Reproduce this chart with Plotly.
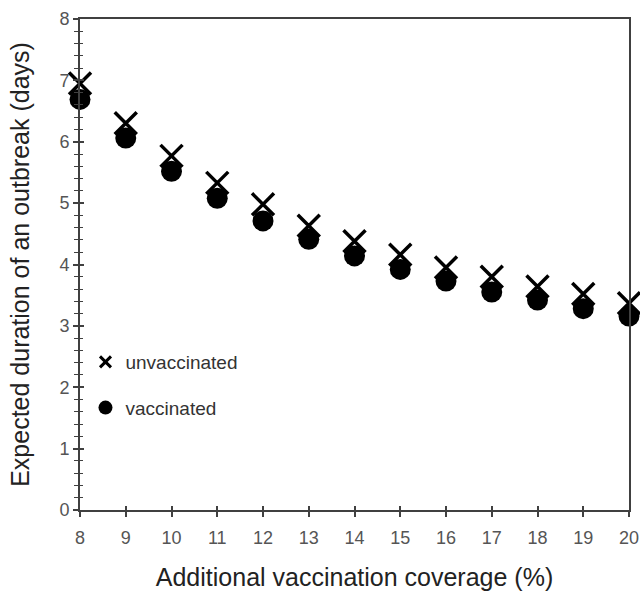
import plotly.graph_objects as go

coverage = [8, 9, 10, 11, 12, 13, 14, 15, 16, 17, 18, 19, 20]
unvaccinated = [6.95, 6.30, 5.77, 5.33, 4.98, 4.63, 4.38, 4.16, 3.95, 3.80, 3.64, 3.52, 3.37]
vaccinated = [6.69, 6.06, 5.52, 5.08, 4.71, 4.41, 4.14, 3.92, 3.73, 3.55, 3.42, 3.28, 3.16]

x_ticks = list(range(8, 21))
y_ticks = list(range(0, 9))

FONT = "Liberation Sans, Arial, sans-serif"
AX = "#404040"

fig = go.Figure()

fig.add_trace(go.Scatter(
    x=coverage, y=unvaccinated, mode="markers", showlegend=False, cliponaxis=False,
    marker=dict(symbol="x-thin-open", size=22, color="black",
                line=dict(width=3.5, color="black")),
))
fig.add_trace(go.Scatter(
    x=coverage, y=vaccinated, mode="markers", showlegend=False, cliponaxis=False,
    marker=dict(symbol="circle", size=21, color="black",
                line=dict(width=0)),
))
# legend entries
fig.add_trace(go.Scatter(
    x=[None], y=[None], mode="markers", name="unvaccinated", legendgroup="a",
    marker=dict(symbol="x-thin-open", size=11, color="black",
                line=dict(width=3, color="black")),
))
fig.add_trace(go.Scatter(
    x=[None], y=[None], mode="markers", name="vaccinated", legendgroup="b",
    marker=dict(symbol="circle", size=14, color="black"),
))

fig.update_layout(
    width=640, height=594,
    margin=dict(l=80, r=11, t=19, b=84),
    paper_bgcolor="white", plot_bgcolor="white",
    font=dict(family=FONT, color="#222"),
    showlegend=True,
    legend=dict(x=0.01, y=0.34, xanchor="left", yanchor="top",
                font=dict(size=19, color="#333"),
                tracegroupgap=18, itemwidth=30,
                bgcolor="rgba(0,0,0,0)"),
    xaxis=dict(
        range=[8, 20], tickvals=x_ticks, ticktext=[str(v) for v in x_ticks],
        showgrid=False, zeroline=False, automargin=False,
        showline=True, linecolor=AX, linewidth=2, mirror=True,
        ticks="outside", ticklen=5, tickwidth=1.5, tickcolor=AX,
        ticklabelstandoff=5, ticklabeloverflow="allow",
        tickfont=dict(size=18, color="#555"),
        title=dict(text="Additional vaccination coverage (%)",
                   font=dict(size=25, color="#222"), standoff=22),
    ),
    xaxis2=dict(
        range=[8, 20], overlaying="x", anchor="y", side="bottom", automargin=False,
        tickvals=x_ticks, showticklabels=False, showgrid=False, zeroline=False,
        ticks="inside", ticklen=4, tickwidth=1.5, tickcolor=AX, showline=False,
    ),
    yaxis=dict(
        range=[0, 8], tickvals=y_ticks, ticktext=[str(v) for v in y_ticks],
        showgrid=False, zeroline=False, automargin=False,
        showline=True, linecolor=AX, linewidth=2, mirror=True,
        ticks="outside", ticklen=5, tickwidth=1.5, tickcolor=AX,
        ticklabelstandoff=0,
        minor=dict(dtick=0.2, ticks="outside", ticklen=4, tickwidth=1.2, tickcolor=AX),
        tickfont=dict(size=18, color="#555"),
        title=dict(text="Expected duration of an outbreak (days)",
                   font=dict(size=25, color="#222"), standoff=23),
    ),
    yaxis2=dict(
        range=[0, 8], overlaying="y", anchor="x", side="left", automargin=False,
        tickvals=y_ticks, showticklabels=False, showgrid=False, zeroline=False,
        ticks="inside", ticklen=4, tickwidth=1.5, tickcolor=AX, showline=False,
        minor=dict(dtick=0.2, ticks="inside", ticklen=3, tickwidth=1.2, tickcolor=AX),
    ),
)

# invisible trace so the overlay axes render
fig.add_trace(go.Scatter(x=[None], y=[None], xaxis="x2", yaxis="y2",
                         showlegend=False, hoverinfo="skip"))

fig.write_html("out.html", config={"displayModeBar": False},
               post_script="document.body.style.margin='0';document.body.style.overflow='hidden';")
